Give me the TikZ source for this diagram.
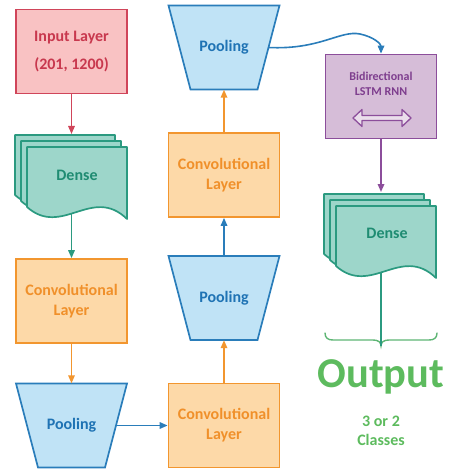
\documentclass[tikz,border=0pt]{standalone}
\usepackage{fontspec}
\setmainfont{Carlito}
\usetikzlibrary{shapes.geometric,arrows.meta,calc}
\definecolor{inF}{HTML}{F9C2C3}
\definecolor{inB}{HTML}{D0455A}
\definecolor{inT}{HTML}{C8384E}
\definecolor{dnF}{HTML}{9DD6CA}
\definecolor{dnB}{HTML}{2B9A80}
\definecolor{dnT}{HTML}{1F8C72}
\definecolor{cvF}{HTML}{FDD9A8}
\definecolor{cvB}{HTML}{F2962F}
\definecolor{cvT}{HTML}{F0902A}
\definecolor{plF}{HTML}{C0E3F6}
\definecolor{plB}{HTML}{2A7DBA}
\definecolor{plT}{HTML}{1F73B4}
\definecolor{lsF}{HTML}{D6BDD8}
\definecolor{lsB}{HTML}{8C4E9B}
\definecolor{lsT}{HTML}{7E3E8E}
\definecolor{outT}{HTML}{5DBB5E}
\definecolor{brC}{HTML}{5DB574}
\newcommand{\dsheet}[2]{%
  \draw[densesheet] (#1,#2) -- (#1+100,#2) -- (#1+100,#2+72)
    .. controls (#1+65,#2+38) and (#1+35,#2+91) .. (#1,#2+60) -- cycle;}
\newcommand{\dstack}[2]{%
  \dsheet{#1-12}{#2-12}\dsheet{#1-6}{#2-6}\dsheet{#1}{#2}}
\newcommand{\poolshape}[2]{%
  \draw[poolshape] (#1-55.5,#2-42) -- (#1+55.5,#2-42) -- (#1+33.5,#2+42)
    -- (#1-33.5,#2+42) -- cycle;}
\begin{document}
\begin{tikzpicture}[x=1pt,y=-1pt,
  box/.style={rectangle, line width=1.7pt, minimum width=111pt, minimum height=84pt,
    align=center, inner sep=0pt, font=\bfseries\fontsize{16}{20}\selectfont},
  inbox/.style={box, draw=inB, fill=inF, text=inT, font=\bfseries\fontsize{16}{28}\selectfont},
  convbox/.style={box, draw=cvB, fill=cvF, text=cvT},
  lstmbox/.style={box, draw=lsB, fill=lsF},
  poolshape/.style={line width=1.7pt, draw=plB, fill=plF, line join=miter},
  pooltext/.style={rectangle, minimum width=111pt, minimum height=84pt, inner sep=0pt,
    text=plT, font=\bfseries\fontsize{16}{20}\selectfont},
  densesheet/.style={draw=dnB, fill=dnF, line width=1.7pt, line join=round},
  densetext/.style={text=dnT, font=\bfseries\fontsize{16}{20}\selectfont},
  arr/.style={line width=1.6pt, -{Triangle[length=8pt,width=6.5pt]}}]
\useasboundingbox (0,0) rectangle (450,473);

% left column
\node[inbox] (in) at (71.5,51.5) {Input Layer\\(201, 1200)};
\dstack{27}{147}
\node[densetext] (d1) at (77,175) {Dense};
\coordinate (d1top) at (71.5,134);
\coordinate (d1bot) at (71.5,214);
\node[convbox] (conv1) at (71.5,301) {Convolutional\\Layer};
\poolshape{71.5}{425.5}
\node[pooltext] (pool1) at (71.5,425.5) {Pooling};
\coordinate (p1e) at ($(pool1.center)+(44.5,0)$);

% middle column
\node[convbox] (conv2) at (224,425.5) {Convolutional\\Layer};
\poolshape{224}{298}
\node[pooltext] (pool2) at (224,298) {Pooling};
\node[convbox] (conv3) at (224,175) {Convolutional\\Layer};
\poolshape{224}{47.5}
\node[pooltext] (pool3) at (224,47.5) {Pooling};
\coordinate (p3e) at ($(pool3.center)+(44.5,0)$);

% right column
\node[lstmbox] (lstm) at (381,96.5) {};
\node[text=lsT, align=center, font=\bfseries\fontsize{12}{15}\selectfont] (lstmtxt) at (381,83.5) {Bidirectional\\LSTM RNN};
\draw[draw=lsB, fill=lsF!50!white, line width=1.3pt, line join=round]
  (353,118) -- (362,109.5) -- (362,115.5) -- (402,115.5) -- (402,109.5) -- (411,118)
  -- (402,126.5) -- (402,120.5) -- (362,120.5) -- (362,126.5) -- cycle;
\dstack{336}{206}
\node[densetext] (d2) at (387,233) {Dense};
\coordinate (d2top) at (381,192);
\coordinate (d2bot) at (381,272);
\coordinate (brtip) at (381,346);
\draw[brC, line width=1.4pt, line cap=round]
  (325,333) .. controls (325,338) and (328,340) .. (333,340) -- (373,340)
  .. controls (378,340) and (381,342) .. (brtip)
  .. controls (381,342) and (384,340) .. (389,340) -- (429,340)
  .. controls (434,340) and (437,338) .. (437,333);
\node[text=outT, anchor=base, font=\bfseries\fontsize{42.5}{42.5}\selectfont] (out) at (381,387) {Output};
\node[text=outT, align=center, font=\bfseries\fontsize{16}{19}\selectfont] (cls) at (381,431) {3 or 2\\Classes};

% connectors
\draw[arr,inB] (in.south) -- (in.south |- d1top);
\draw[arr,dnB] (d1bot) -- (conv1.north);
\draw[arr,cvB] (conv1.south) -- (pool1.north);
\draw[arr,plB] (p1e) -- (conv2.west);
\draw[arr,cvB] (conv2.north) -- (pool2.south);
\draw[arr,plB] (pool2.north) -- (conv3.south);
\draw[arr,cvB] (conv3.north) -- (pool3.south);
\draw[arr,plB] (p3e) .. controls (320,50) and (340,30) .. (360,34)
  .. controls (374,37) and (381,44) .. (lstm.north);
\draw[arr,lsB] (lstm.south) -- (lstm.south |- d2top);
\draw[line width=1.6pt,dnB] (d2bot) -- (brtip);
\end{tikzpicture}
\end{document}
